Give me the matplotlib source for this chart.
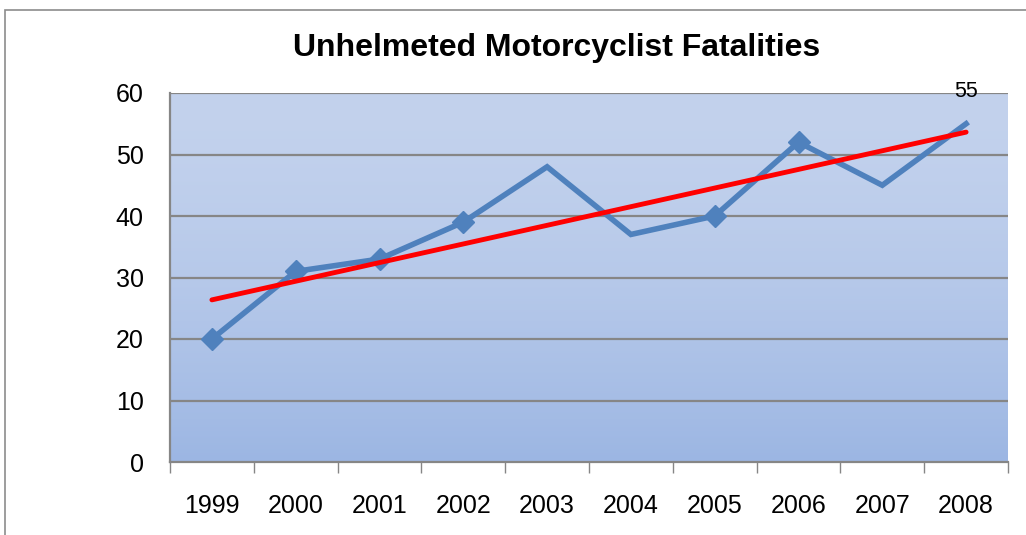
import numpy as np
import matplotlib.pyplot as plt
from matplotlib.patches import Rectangle

years = ["1999", "2000", "2001", "2002", "2003", "2004", "2005", "2006", "2007", "2008"]
fatalities = [20, 31, 33, 39, 48, 37, 40, 52, 45, 55]
marked = [0, 1, 2, 3, 6, 7]  # points drawn with diamond markers
yticks = [0, 10, 20, 30, 40, 50, 60]

plt.rcParams["font.family"] = ["Liberation Sans", "DejaVu Sans"]

fig = plt.figure(figsize=(10.26, 5.35), dpi=100)
fig.patches.append(Rectangle((5 / 1026, -0.1), 1.1, (1 - 10 / 535) + 0.1,
                             transform=fig.transFigure, fill=False,
                             edgecolor="#8c8c8c", lw=1.2))

ax = fig.add_axes([170 / 1026, 1 - 462 / 535, 838 / 1026, 369 / 535])
x = np.arange(len(years))

# gradient background
grad = np.linspace(0, 1, 256).reshape(-1, 1)
top = np.array([0xC3, 0xD2, 0xED]) / 255
bot = np.array([0x9C, 0xB6, 0xE3]) / 255
img = top + (bot - top) * grad[:, :, None] ** 1.6
ax.imshow(img, extent=[-0.5, len(years) - 0.5, 0, 60], aspect="auto", zorder=0)

for yv in yticks[1:]:
    ax.axhline(yv, color="#868686", lw=1.6, zorder=1)

ax.plot(x, fatalities, color="#4F81BD", lw=4, zorder=3, solid_joinstyle="miter")
ax.plot(x[marked], np.array(fatalities)[marked], ls="none", marker="D",
        ms=11, color="#4F81BD", zorder=4)

slope, icpt = np.polyfit(x, fatalities, 1)
ax.plot(x, slope * x + icpt, color="#FF0000", lw=3.5, zorder=5,
        solid_capstyle="round")

ax.text(x[-1], fatalities[-1] + 5.3, str(fatalities[-1]), ha="center",
        va="center", fontsize=15.5, zorder=6)

ax.set_xlim(-0.5, len(years) - 0.5)
ax.set_ylim(0, 60)
ax.set_yticks(yticks)
ax.set_xticks(np.arange(-0.5, len(years)))
ax.set_xticklabels([])
ax.set_xticks(x, minor=True)
ax.set_xticklabels(years, minor=True)
ax.tick_params(axis="x", which="major", length=8, color="#868686", width=1)
ax.tick_params(axis="x", which="minor", length=0, pad=23, labelsize=18)
ax.tick_params(axis="y", length=0, pad=19, labelsize=18)

for s in ["top", "right"]:
    ax.spines[s].set_visible(False)
for s in ["left", "bottom"]:
    ax.spines[s].set_color("#868686")
    ax.spines[s].set_linewidth(1.6)

fig.text(557 / 1026, 1 - 48 / 535, "Unhelmeted Motorcyclist Fatalities",
         ha="center", va="center", fontsize=23, fontweight="bold")

fig.savefig("out.png", dpi=100)
